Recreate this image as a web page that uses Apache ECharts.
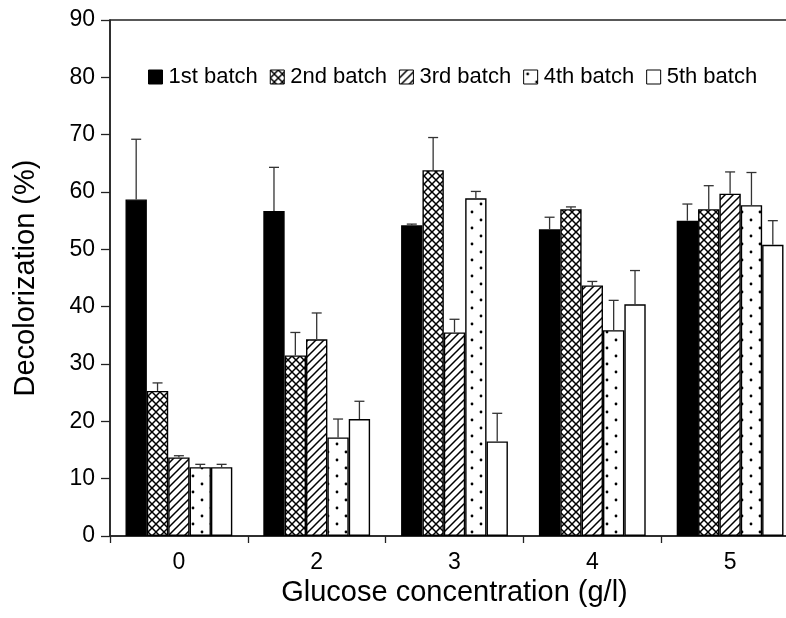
<!DOCTYPE html>
<html><head><meta charset="utf-8">
<script src="https://cdn.jsdelivr.net/npm/echarts@6/dist/echarts.min.js"></script>
<style>html,body{margin:0;padding:0;background:#fff;overflow:hidden}#c{width:800px;height:618px}</style>
</head><body><div id="c"></div>
<script>
const categories = ['0', '2', '3', '4', '5'];
const batchNames = ['1st batch', '2nd batch', '3rd batch', '4th batch', '5th batch'];
const batch1 = [58.7, 56.7, 54.2, 53.5, 55.0];
const batch2 = [25.3, 31.5, 63.8, 57.0, 57.0];
const batch3 = [13.7, 34.3, 35.5, 43.7, 59.7];
const batch4 = [12.0, 17.2, 58.9, 35.9, 57.7];
const batch5 = [12.0, 20.4, 16.5, 40.4, 50.8];
const err1 = [10.5, 7.6, 0.2, 2.1, 2.9];
const err2 = [1.4, 4.0, 5.7, 0.4, 4.1];
const err3 = [0.3, 4.6, 2.3, 0.7, 3.8];
const err4 = [0.5, 3.2, 1.2, 5.2, 5.7];
const err5 = [0.5, 3.1, 4.9, 5.9, 4.2];
const yTicks = [0, 10, 20, 30, 40, 50, 60, 70, 80, 90];

const values = [batch1, batch2, batch3, batch4, batch5];
const errors = [err1, err2, err3, err4, err5];

function pat(w, h, draw) {
  const c = document.createElement('canvas');
  c.width = w; c.height = h;
  const g = c.getContext('2d');
  g.fillStyle = '#fff'; g.fillRect(0, 0, w, h);
  g.strokeStyle = '#000'; g.fillStyle = '#000';
  draw(g, w, h);
  return { image: c, repeat: 'repeat' };
}
const solid = '#000';
const cross = pat(8, 8, (g, w, h) => {
  g.lineWidth = 1.5;
  g.beginPath();
  g.moveTo(-1, -1); g.lineTo(w + 1, h + 1);
  g.moveTo(-1, h + 1); g.lineTo(w + 1, -1);
  g.stroke();
});
const diag = pat(8, 8, (g, w, h) => {
  g.lineWidth = 1.5;
  g.beginPath();
  g.moveTo(-1, h + 1); g.lineTo(w + 1, -1);
  g.moveTo(-2, 2); g.lineTo(2, -2);
  g.moveTo(w - 2, h + 2); g.lineTo(w + 2, h - 2);
  g.stroke();
});
const dots = pat(18, 16, (g) => {
  g.beginPath(); g.arc(4, 4, 1.4, 0, Math.PI * 2); g.fill();
  g.beginPath(); g.arc(13, 12, 1.4, 0, Math.PI * 2); g.fill();
});
const fills = [solid, cross, diag, dots, '#fff'];

const GAP = 0.225;
const font = 'Liberation Sans, Arial, sans-serif';

const series = [];
values.forEach((vals, i) => {
  series.push({
    name: batchNames[i], type: 'bar', data: vals,
    barGap: '0%', barCategoryGap: (GAP * 100) + '%',
    itemStyle: { color: fills[i], borderColor: '#000', borderWidth: 1.4 },
    emphasis: { disabled: true }, z: 2
  });
});
values.forEach((vals, i) => {
  series.push({
    name: 'err' + i, type: 'custom', z: 3,
    data: vals.map((v, k) => [k, v, errors[i][k]]),
    renderItem: function (params, api) {
      const v = api.value(1), e = api.value(2);
      const base = api.coord([api.value(0), v]);
      const top = api.coord([api.value(0), v + e]);
      const catW = api.size([1, 0])[0];
      const bw = catW * (1 - GAP) / 5;
      const cx = base[0] + (i - 2) * bw;
      const st = { stroke: '#333', lineWidth: 1.3 };
      return { type: 'group', children: [
        { type: 'line', shape: { x1: cx, y1: base[1], x2: cx, y2: top[1] }, style: st },
        { type: 'line', shape: { x1: cx - 5, y1: top[1], x2: cx + 5, y2: top[1] }, style: st }
      ]};
    }
  });
});

const chart = echarts.init(document.getElementById('c'));
chart.setOption({
  animation: false,
  backgroundColor: '#fff',
  grid: { left: 110, right: 1, top: 20, bottom: 82, show: true, borderColor: '#222', borderWidth: 1.5, backgroundColor: 'transparent' },
  legend: {
    data: batchNames, left: 148, top: 66, padding: 0, itemGap: 12,
    icon: 'rect', itemWidth: 14, itemHeight: 14, itemStyle: { borderColor: '#000', borderWidth: 1 },
    textStyle: { fontFamily: font, fontSize: 22, color: '#000', padding: [0, 0, 0, 1] },
    selectedMode: false
  },
  xAxis: {
    type: 'category', data: categories,
    name: 'Glucose concentration (g/l)', nameLocation: 'middle', nameGap: 42,
    nameTextStyle: { fontFamily: font, fontSize: 29, color: '#000' },
    axisLine: { lineStyle: { color: '#222', width: 1.5 } },
    axisTick: { show: true, length: 7, lineStyle: { color: '#222', width: 1.3 } },
    axisLabel: { fontFamily: font, fontSize: 23, color: '#000', margin: 15 }
  },
  yAxis: {
    type: 'value', min: yTicks[0], max: yTicks[yTicks.length - 1], interval: 10,
    name: 'Decolorization (%)', nameLocation: 'middle', nameGap: 70,
    nameTextStyle: { fontFamily: font, fontSize: 29, color: '#000' },
    axisLine: { show: true, lineStyle: { color: '#222', width: 1.5 } },
    axisTick: { show: true, length: 9, lineStyle: { color: '#222', width: 1.3 } },
    axisLabel: { fontFamily: font, fontSize: 23, color: '#000', margin: 15 },
    splitLine: { show: false }
  },
  series: series
});
</script></body></html>
